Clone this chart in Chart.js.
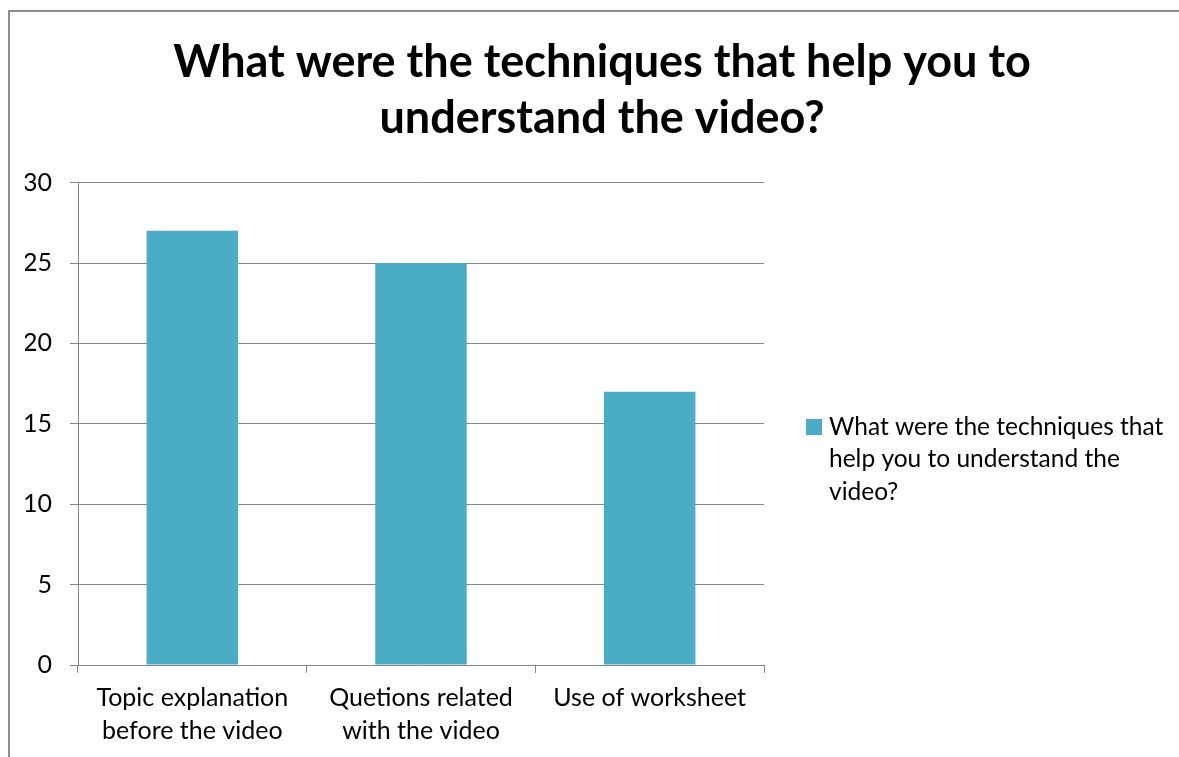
<!DOCTYPE html>
<html>
<head>
<meta charset="utf-8">
<script src="https://cdn.jsdelivr.net/npm/chart.js@4.4.1/dist/chart.umd.min.js"></script>
<style>
  html, body { margin: 0; padding: 0; background: #fff; overflow: hidden; }
  #wrap { position: relative; width: 1179px; height: 757px; }
  #frame { position: absolute; left: 8px; top: 10px; width: 1300px; height: 900px;
           border-left: 2px solid #8d8d8d; border-top: 2px solid #8d8d8d; }
  canvas { position: absolute; left: 0; top: 0; }
</style>
</head>
<body>
<div id="wrap">
  <div id="frame"></div>
  <canvas id="chart" width="1179" height="757"></canvas>
</div>
<script>
const titleLines = ['What were the techniques that help you to', 'understand the video?'];
const categories = [
  ['Topic explanation', 'before the video'],
  ['Quetions related', 'with the video'],
  ['Use of worksheet']
];
const counts = [27, 25, 17];
const seriesName = 'What were the techniques that help you to understand the video?';
const legendLines = ['What were the techniques that', 'help you to understand the', 'video?'];
const yTicks = { min: 0, max: 30, step: 5 };

const FONT = 'Lato, Carlito, Calibri, sans-serif';
const BAR = '#4bacc6';
const GRID = '#868686';

// Legend on the right, wrapped over three lines like the office-style chart
const sideLegend = {
  id: 'sideLegend',
  afterDraw(chart) {
    const ctx = chart.ctx;
    const x = chart.chartArea.right + 42;
    const y0 = 427;
    ctx.save();
    ctx.fillStyle = BAR;
    ctx.fillRect(x, y0 - 8, 16, 16);
    ctx.fillStyle = '#000';
    ctx.font = '24.5px ' + FONT;
    ctx.textBaseline = 'middle';
    legendLines.forEach((t, i) => ctx.fillText(t, x + 23, y0 + i * 32.5));
    ctx.restore();
  }
};

new Chart(document.getElementById('chart'), {
  type: 'bar',
  data: {
    labels: categories,
    datasets: [{
      label: seriesName,
      data: counts,
      backgroundColor: BAR,
      borderWidth: 0,
      barPercentage: 0.4,
      categoryPercentage: 1
    }]
  },
  options: {
    responsive: false,
    animation: false,
    layout: { padding: { left: 25, right: 0, top: 0, bottom: 0 } },
    plugins: {
      legend: { display: false },
      tooltip: { enabled: false },
      title: {
        display: true,
        text: titleLines,
        color: '#000',
        font: { family: FONT, size: 45, weight: 'bold', lineHeight: 1.24 },
        padding: { top: 35, bottom: 36 }
      }
    },
    scales: {
      x: {
        grid: { offset: true, drawOnChartArea: false, drawTicks: true, tickLength: 8, color: GRID },
        border: { color: GRID },
        ticks: { color: '#000', font: { family: FONT, size: 25, lineHeight: 1.32 }, padding: 8, maxRotation: 0 },
        afterFit: s => { s.height = 92; }
      },
      y: {
        min: yTicks.min,
        max: yTicks.max,
        grid: { color: GRID, tickLength: 8 },
        border: { color: GRID },
        ticks: { stepSize: yTicks.step, color: '#000', font: { family: FONT, size: 25 }, padding: 18 },
        afterFit: s => { s.width = 53; }
      },
      // empty right-hand axis that keeps room for the legend
      side: {
        position: 'right',
        grid: { display: false },
        border: { display: false },
        ticks: { display: false },
        afterFit: s => { s.width = 415; }
      }
    }
  },
  plugins: [sideLegend]
});
</script>
</body>
</html>
